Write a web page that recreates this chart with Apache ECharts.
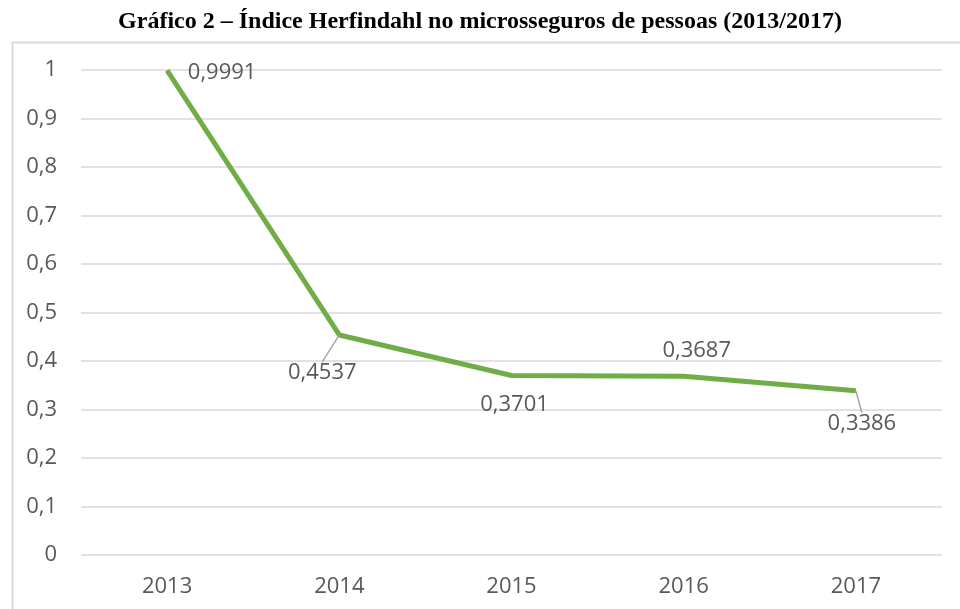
<!DOCTYPE html>
<html>
<head>
<meta charset="utf-8">
<script src="https://cdn.jsdelivr.net/npm/echarts@6/dist/echarts.min.js"></script>
<style>
  html, body { margin: 0; padding: 0; background: #fff; }
  #chart { width: 960px; height: 609px; }
</style>
</head>
<body>
<div id="chart"></div>
<script>
// Herfindahl index, microseguros de pessoas
const years = ['2013', '2014', '2015', '2016', '2017']
const herfindahl = [0.9991, 0.4537, 0.3701, 0.3687, 0.3386]
const yTicks = [0, 0.1, 0.2, 0.3, 0.4, 0.5, 0.6, 0.7, 0.8, 0.9, 1]

// where each value label sits relative to its point (px)
const labelShift = [[55, 2], [-17, 38], [3, 29], [13, -25], [6, 33]]
const withLeader = [false, true, false, false, true]

const textGrey = '#595959'
const gridGrey = '#d9d9d9'
const labelFont = 'Open Sans'

const fmt = v => String(v).replace('.', ',')

const chart = echarts.init(document.getElementById('chart'))

chart.setOption({
  animation: false,
  title: {
    text: 'Gráfico 2 – Índice Herfindahl no microsseguros de pessoas (2013/2017)',
    left: 'center',
    top: 5,
    textStyle: {
      fontFamily: 'Liberation Serif',
      fontWeight: 'bold',
      fontSize: 24,
      color: '#000'
    }
  },
  graphic: [{
    type: 'rect',
    left: 10,
    top: 40,
    shape: { width: 1000, height: 620 },
    style: { fill: 'none', stroke: gridGrey, lineWidth: 2 },
    silent: true
  }],
  grid: { left: 81, right: 18, top: 70, bottom: 54 },
  xAxis: {
    type: 'category',
    data: years,
    boundaryGap: true,
    axisLine: { show: false },
    axisTick: { show: false },
    axisLabel: {
      margin: 21,
      fontFamily: labelFont,
      fontSize: 22,
      color: textGrey
    }
  },
  yAxis: {
    type: 'value',
    min: yTicks[0],
    max: yTicks[yTicks.length - 1],
    interval: 0.1,
    axisLine: { show: false },
    axisTick: { show: false },
    splitLine: { lineStyle: { color: gridGrey, width: 1.5 } },
    axisLabel: {
      margin: 24,
      fontFamily: labelFont,
      fontSize: 22,
      color: textGrey,
      formatter: v => fmt(Math.round(v * 10) / 10)
    }
  },
  series: [{
    type: 'line',
    data: herfindahl.map((v, i) => ({
      value: v,
      labelLine: { show: withLeader[i] }
    })),
    symbol: 'circle',
    symbolSize: 1,
    showSymbol: true,
    itemStyle: { color: 'rgba(0,0,0,0)', borderWidth: 0 },
    lineStyle: { color: '#70ad47', width: 5, join: 'round' },
    label: {
      show: true,
      position: 'inside',
      fontFamily: labelFont,
      fontSize: 22,
      color: textGrey,
      formatter: p => fmt(p.value)
    },
    labelLine: {
      lineStyle: { color: '#a6a6a6', width: 1.5 }
    },
    labelLayout: p => ({
      dx: labelShift[p.dataIndex][0],
      dy: labelShift[p.dataIndex][1]
    })
  }]
})
</script>
</body>
</html>
